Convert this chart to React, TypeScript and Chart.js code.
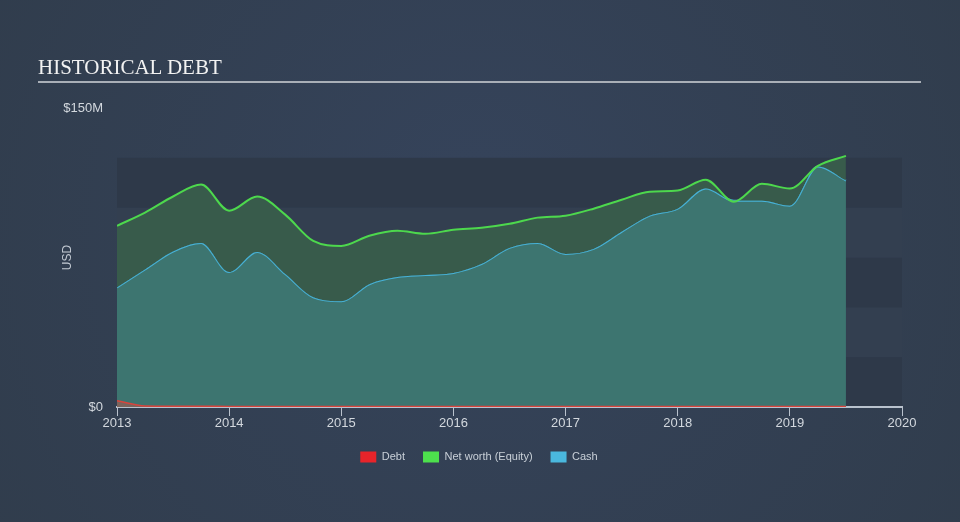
import React, { useEffect, useRef } from "react";
import { Chart, registerables } from "chart.js";

Chart.register(...registerables);

const years = [
  2013.0, 2013.25, 2013.5, 2013.75, 2014.0, 2014.25, 2014.5, 2014.75,
  2015.0, 2015.25, 2015.5, 2015.75, 2016.0, 2016.25, 2016.5, 2016.75,
  2017.0, 2017.25, 2017.5, 2017.75, 2018.0, 2018.25, 2018.5, 2018.75,
  2019.0, 2019.25, 2019.5,
];

// values in millions USD
const debt = [
  3.2, 0.5, 0.4, 0.4, 0.3, 0.3, 0.3, 0.3,
  0.2, 0.2, 0.2, 0.2, 0.2, 0.2, 0.2, 0.2,
  0.2, 0.2, 0.2, 0.2, 0.2, 0.2, 0.2, 0.2,
  0.2, 0.2, 0.2,
];

const netWorth = [
  90.9, 97.5, 105.6, 111.6, 98.5, 105.6, 96.5, 83.3,
  80.8, 85.9, 88.4, 86.9, 88.9, 89.9, 91.9, 95.0,
  96.0, 99.5, 104.0, 108.0, 108.6, 114.0, 103.0, 112.0,
  109.6, 121.0, 126.0,
];

const cash = [
  60.0, 69.0, 78.0, 82.3, 67.7, 77.8, 66.7, 55.0,
  53.0, 61.6, 65.2, 66.2, 67.2, 71.7, 79.8, 82.3,
  76.8, 79.3, 87.9, 96.0, 99.5, 109.6, 103.5, 103.5,
  101.0, 120.7, 113.6,
];

const xTicks = [2013, 2014, 2015, 2016, 2017, 2018, 2019, 2020];
const yTicks = [0, 150];
const yTickLabels = ["$0", "$150M"];
const bandStep = 25;
const bandCount = 5;

const seriesNames = ["Debt", "Net worth (Equity)", "Cash"];

const BG = "#333f4f";

const bandsPlugin = {
  id: "bands",
  beforeDraw(chart: any) {
    const { ctx, chartArea, scales } = chart;
    ctx.save();
    const g = ctx.createRadialGradient(480, 200, 40, 480, 260, 620);
    g.addColorStop(0, "#35435a");
    g.addColorStop(1, "#303c4b");
    ctx.fillStyle = g;
    ctx.fillRect(0, 0, chart.width, chart.height);
    const y = scales.y;
    for (let i = 0; i < bandCount; i++) {
      const top = y.getPixelForValue((i + 1) * bandStep);
      const bottom = y.getPixelForValue(i * bandStep);
      ctx.fillStyle = i % 2 === 0 ? "#2e3949" : "#333f50";
      ctx.fillRect(chartArea.left, top, chartArea.right - chartArea.left, bottom - top);
    }
    ctx.restore();
  },
};

export default function App() {
  const canvasRef = useRef<HTMLCanvasElement | null>(null);

  useEffect(() => {
    const canvas = canvasRef.current;
    if (!canvas) return;
    const toPts = (arr: number[]) => years.map((x, i) => ({ x, y: arr[i] }));
    const font = "'Liberation Sans', Arial, Helvetica, sans-serif";

    const chart = new Chart(canvas, {
      type: "line",
      data: {
        datasets: [
          {
            label: seriesNames[0],
            data: toPts(debt),
            borderColor: "#d9443c",
            backgroundColor: "#e8242a",
            fill: { target: "origin", above: "rgba(200,80,70,0.45)" },
            borderWidth: 1.5,
            pointRadius: 0,
            cubicInterpolationMode: "monotone",
          },
          {
            label: seriesNames[1],
            data: toPts(netWorth),
            borderColor: "#4dd84d",
            backgroundColor: "#4de04d",
            fill: { target: "+1", above: "#385b4b", below: "#3d7570" },
            borderWidth: 2,
            pointRadius: 0,
            cubicInterpolationMode: "monotone",
          },
          {
            label: seriesNames[2],
            data: toPts(cash),
            borderColor: "#47b2d8",
            backgroundColor: "#4ab8de",
            fill: { target: "origin", above: "#3d7570" },
            borderWidth: 2,
            pointRadius: 0,
            cubicInterpolationMode: "monotone",
          },
        ],
      },
      options: {
        animation: false,
        responsive: false,
        maintainAspectRatio: false,
        layout: { padding: { left: 56, right: 58, top: 108, bottom: 49.5 } },
        plugins: {
          title: { display: false },
          tooltip: { enabled: false },
          legend: {
            display: true,
            position: "bottom",
            labels: {
              boxWidth: 16,
              boxHeight: 11,
              padding: 18,
              color: "#c9d0d8",
              font: { family: font, size: 11 },
              generateLabels: (ch: any) =>
                ch.data.datasets.map((ds: any, i: number) => ({
                  text: ds.label,
                  fillStyle: ds.backgroundColor,
                  strokeStyle: ds.backgroundColor,
                  lineWidth: 0,
                  hidden: false,
                  datasetIndex: i,
                  fontColor: "#c9d0d8",
                })),
            },
          },
        },
        scales: {
          x: {
            type: "linear",
            min: xTicks[0],
            max: xTicks[xTicks.length - 1],
            afterBuildTicks: (s: any) => {
              s.ticks = xTicks.map((v) => ({ value: v }));
            },
            afterFit: (s: any) => {
              s.height = 26.5;
            },
            ticks: {
              padding: 0,
              color: "#d3d8de",
              font: { family: font, size: 13 },
              maxRotation: 0,
              autoSkip: false,
              callback: (v: any) => String(v),
            },
            grid: {
              drawOnChartArea: false,
              drawTicks: true,
              tickLength: 9,
              color: "#b9c2cd",
              lineWidth: 1,
            },
            border: { display: true, color: "#b9c2cd", width: 2 },
          },
          y: {
            type: "linear",
            min: yTicks[0],
            max: yTicks[yTicks.length - 1],
            afterBuildTicks: (s: any) => {
              s.ticks = yTicks.map((v) => ({ value: v }));
            },
            afterFit: (s: any) => {
              s.width = 61;
            },
            ticks: {
              padding: 14,
              color: "#d3d8de",
              font: { family: font, size: 13 },
              callback: (v: any) => yTickLabels[yTicks.indexOf(Number(v))] ?? "",
            },
            grid: { display: false, drawTicks: false },
            border: { display: false },
            title: {
              display: true,
              text: "USD",
              color: "#c3cad3",
              font: { family: font, size: 12 },
            },
          },
        },
      },
      plugins: [bandsPlugin],
    });
    return () => chart.destroy();
  }, []);

  return (
    <div
      style={{
        position: "fixed",
        left: 0,
        top: 0,
        width: 960,
        height: 522,
        background: BG,
        overflow: "hidden",
      }}
    >
      <canvas ref={canvasRef} width={960} height={522} style={{ position: "absolute", left: 0, top: 0 }} />
      <div
        style={{
          position: "absolute",
          left: 38,
          top: 55,
          fontFamily: "'Liberation Serif', 'Times New Roman', serif",
          fontSize: 21,
          color: "#f2f2f2",
          lineHeight: "24px",
          whiteSpace: "nowrap",
        }}
      >
        HISTORICAL DEBT
      </div>
      <div
        style={{
          position: "absolute",
          left: 38,
          top: 81,
          width: 883,
          height: 2,
          background: "#a9afb7",
        }}
      />
    </div>
  );
}
